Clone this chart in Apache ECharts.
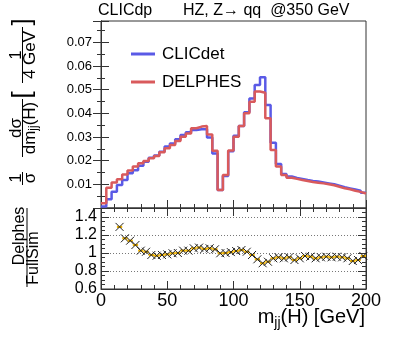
<!DOCTYPE html>
<html><head><meta charset="utf-8">
<script src="https://cdn.jsdelivr.net/npm/echarts@6/dist/echarts.min.js"></script>
<style>html,body{margin:0;padding:0;background:#fff}#c{width:407px;height:348px}</style>
</head><body><div id="c"></div>
<script>
// bin lower edges (GeV), 4 GeV bins
const binLow = [0,4,8,12,16,20,24,28,32,36,40,44,48,52,56,60,64,68,72,76,80,84,88,92,96,100,104,108,112,116,120,124,128,132,136,140,144,148,152,156,160,164,168,172,176,180,184,188,192,196];
const binHigh = 200;
const clicdet = [0.0006,0.0037,0.0069,0.0097,0.0118,0.0147,0.0160,0.0179,0.0195,0.0212,0.0222,0.0238,0.0260,0.0272,0.0290,0.0308,0.0320,0.0330,0.0333,0.0333,0.0298,0.0230,0.0076,0.0135,0.0240,0.0305,0.0346,0.0405,0.0463,0.0520,0.0552,0.0435,0.0276,0.0186,0.0144,0.0133,0.0127,0.0123,0.0118,0.0114,0.0112,0.0108,0.0104,0.0100,0.0094,0.0088,0.0083,0.0078,0.0073,0.0064];
const delphes = [0.0020,0.0086,0.0108,0.0121,0.0142,0.0158,0.0175,0.0189,0.0199,0.0210,0.0220,0.0235,0.0252,0.0266,0.0283,0.0301,0.0315,0.0337,0.0344,0.0346,0.0311,0.0242,0.0076,0.0139,0.0243,0.0301,0.0346,0.0400,0.0449,0.0492,0.0487,0.0379,0.0245,0.0175,0.0139,0.0128,0.0123,0.0118,0.0114,0.0110,0.0107,0.0104,0.0100,0.0096,0.0090,0.0083,0.0079,0.0073,0.0068,0.0061];
// ratio points (bin centres, GeV) and values
const ratioX = [14,18,22,26,30,34,38,42,46,50,54,58,62,66,70,74,78,82,86,90,94,98,102,106,110,114,118,122,126,130,134,138,142,146,150,154,158,162,166,170,174,178,182,186,190,194,198];
const ratioY = [1.29,1.163,1.137,1.089,1.026,1.014,0.978,0.97,0.978,0.985,0.997,1.0,1.026,1.026,1.052,1.06,1.045,1.052,1.041,0.997,1.0,1.01,1.022,1.033,1.014,0.978,0.930,0.886,0.903,0.941,0.952,0.941,0.952,0.922,0.941,0.967,0.959,0.941,0.952,0.959,0.952,0.959,0.952,0.941,0.911,0.922,0.967];
const xTicks = [0,50,100,150,200];

const FONT = '"Liberation Sans", Arial, sans-serif';
const cv = document.createElement('canvas').getContext('2d');
function measure(t, s){ cv.font = s + 'px "Liberation Sans"'; return cv.measureText(t).width; }
function txt(x, y, t, s, rot, align){
  return {type:'text', x:x, y:y, rotation:rot||0, silent:true,
    style:{text:t, fontSize:s, fontFamily:FONT, fill:'#000', align:align||'left', textAlign:align||'left', verticalAlign:'middle', textVerticalAlign:'middle'}};
}
function hRow(pieces, xRight, yMid){
  let W = pieces.reduce((a,p)=>a+measure(p.t,p.s),0);
  let cur = xRight - W; const out=[];
  pieces.forEach(p=>{ out.push(txt(cur, yMid+(p.dy||0), p.t, p.s, 0, 'left')); cur += measure(p.t,p.s); });
  return out;
}
function vRow(pieces, xMid, yCenter){
  let W = pieces.reduce((a,p)=>a+measure(p.t,p.s),0);
  let cur = yCenter + W/2; const out=[];
  pieces.forEach(p=>{ out.push(txt(xMid+(p.dy||0), cur, p.t, p.s, Math.PI/2, 'left')); cur -= measure(p.t,p.s); });
  return out;
}
function vline(x, y1, y2){ return {type:'line', silent:true, shape:{x1:x,y1:y1,x2:x,y2:y2}, style:{stroke:'#000', lineWidth:1}}; }

const graphics = [].concat(
  [txt(98, 11, 'CLICdp', 16), txt(183, 11, 'HZ, Z\u2192 qq  @350 GeV', 16)],
  vRow([{t:'1',s:17}], 16, 178), vRow([{t:'\u03c3',s:17}], 30, 178), [vline(22.5,172,185)],
  vRow([{t:'d\u03c3',s:17}], 16, 128), vRow([{t:'dm',s:17},{t:'jj',s:12,dy:4},{t:'(H)',s:17}], 30, 128), [vline(22.5,99,157)],
  vRow([{t:'[',s:26}], 23, 95),
  vRow([{t:'1',s:17}], 16, 55), vRow([{t:'4 GeV',s:17}], 30, 55), [vline(22.5,27,83)],
  vRow([{t:']',s:26}], 23, 22),
  vRow([{t:'Delphes',s:16}], 20, 236), vRow([{t:'FullSim',s:16}], 34, 258), [vline(27,208,287)],
  hRow([{t:'m',s:20},{t:'jj',s:14,dy:6},{t:'(H) [GeV]',s:20}], 365, 317)
);

const axC = '#333';
function xAx(grid, pos, labels){
  return {type:'value', gridIndex:grid, position:pos, min:0, max:200, interval:50,
    axisLine:{show:true, lineStyle:{color:axC}},
    axisTick:{show:true, inside:true, length:8, lineStyle:{color:axC}},
    minorTick:{show:true, splitNumber:5, length:4, lineStyle:{color:axC}},
    splitLine:{show:false},
    axisLabel:{show:labels, fontSize:18, fontFamily:FONT, color:'#000', margin:3,
      customValues: xTicks}};
}
const option = {
  animation:false,
  grid:[
    {left:101, right:41, top:21, height:187, show:true, borderColor:axC, borderWidth:1},
    {left:101, right:41, top:208, height:81, show:true, borderColor:axC, borderWidth:1}
  ],
  legend:{orient:'vertical', left:126, top:39, itemWidth:24, itemHeight:3, itemGap:8, icon:'rect',
    textStyle:{fontSize:17, fontFamily:FONT, color:'#000', lineHeight:20, padding:[0,0,0,2]},
    data:['CLICdet','DELPHES']},
  xAxis:[xAx(0,'bottom',false), xAx(0,'top',false), xAx(1,'bottom',true)],
  yAxis:[
    {type:'value', gridIndex:0, min:0, max:0.079, interval:0.01,
     axisLine:{show:true, lineStyle:{color:axC}},
     axisTick:{show:true, inside:true, length:8, lineStyle:{color:axC}},
     minorTick:{show:true, splitNumber:2, length:4, lineStyle:{color:axC}},
     splitLine:{show:false},
     axisLabel:{fontSize:13, fontFamily:FONT, color:'#000', margin:9, showMinLabel:false, showMaxLabel:false,
       formatter:v=>v.toFixed(2)}},
    {type:'value', gridIndex:0, position:'right', min:0, max:0.079, interval:0.01,
     axisLine:{show:true, lineStyle:{color:axC}},
     axisTick:{show:true, inside:true, length:8, lineStyle:{color:axC}},
     minorTick:{show:true, splitNumber:2, length:4, lineStyle:{color:axC}},
     splitLine:{show:false}, axisLabel:{show:false}},
    {type:'value', gridIndex:1, min:0.6, max:1.5, interval:0.2,
     axisLine:{show:true, lineStyle:{color:axC}},
     axisTick:{show:true, inside:true, length:8, lineStyle:{color:axC}},
     minorTick:{show:true, splitNumber:4, length:4, lineStyle:{color:axC}},
     splitLine:{show:true, lineStyle:{color:'#777', type:[1,2], width:1}},
     axisLabel:{fontSize:16, fontFamily:FONT, color:'#000', margin:4, showMaxLabel:false,
       formatter:v=>String(parseFloat(v.toFixed(2)))}},
    {type:'value', gridIndex:1, position:'right', min:0.6, max:1.5, interval:0.2,
     axisLine:{show:true, lineStyle:{color:axC}},
     axisTick:{show:true, inside:true, length:8, lineStyle:{color:axC}},
     minorTick:{show:true, splitNumber:4, length:4, lineStyle:{color:axC}},
     splitLine:{show:false}, axisLabel:{show:false}}
  ],
  series:[
    {name:'CLICdet', type:'line', xAxisIndex:0, yAxisIndex:0, step:'end', symbol:'none',
     color:'#5a5ae6', lineStyle:{color:'#5a5ae6', width:2.5},
     data: clicdet.map((v,i)=>[binLow[i], v]).concat([[binHigh, clicdet[clicdet.length-1]]])},
    {name:'DELPHES', type:'line', xAxisIndex:0, yAxisIndex:0, step:'end', symbol:'none',
     color:'#d95a5c', lineStyle:{color:'#d95a5c', width:2.5},
     data: delphes.map((v,i)=>[binLow[i], v]).concat([[binHigh, delphes[delphes.length-1]]])},
    {name:'ratio', type:'custom', xAxisIndex:2, yAxisIndex:2,
     data: ratioX.map((x,i)=>[x, ratioY[i]]),
     renderItem:function(params, api){
       const x = api.value(0), r = api.value(1);
       const p = api.coord([x, r]);
       const l = api.coord([x-2, r])[0], rr = api.coord([x+2, r])[0];
       const e = api.size([0, 0.012])[1];
       return {type:'group', children:[
         {type:'rect', shape:{x:l, y:p[1]-e, width:rr-l, height:2*e}, style:{fill:'#f2b400'}},
         {type:'line', shape:{x1:p[0]-4,y1:p[1]-4,x2:p[0]+4,y2:p[1]+4}, style:{stroke:'#222', lineWidth:1}},
         {type:'line', shape:{x1:p[0]-4,y1:p[1]+4,x2:p[0]+4,y2:p[1]-4}, style:{stroke:'#222', lineWidth:1}}
       ]};
     }}
  ],
  graphic: graphics
};
const chart = echarts.init(document.getElementById('c'), null, {renderer:'canvas'});
chart.setOption(option);
</script></body></html>
